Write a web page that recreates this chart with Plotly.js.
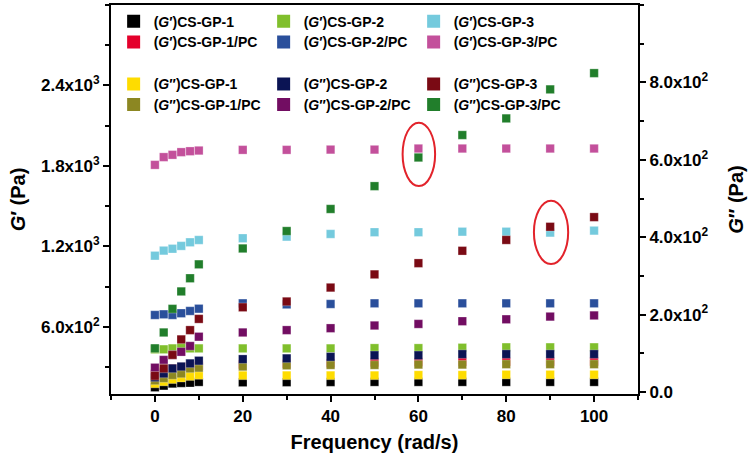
<!DOCTYPE html>
<html>
<head>
<meta charset="utf-8">
<script src="https://cdn.plot.ly/plotly-3.0.1.min.js"></script>
<style>html,body{margin:0;padding:0;background:#fff;}#chart{width:748px;height:455px;}</style>
</head>
<body>
<div id="chart"></div>
<script>
// Frequency (rad/s)
const freq = [0, 2, 4, 6, 8, 10, 20, 30, 40, 50, 60, 70, 80, 90, 100];

// G' (Pa) - left axis
const gp1_G1   = [150, 162, 178, 182, 184, 190, 187, 188, 189, 190, 190, 190, 190, 190, 190];
const gp1pc_G1 = [250, 265, 290, 300, 305, 310, 320, 325, 330, 335, 338, 340, 340, 342, 342];
const gp2_G1   = [433, 433, 440, 447, 440, 440, 440, 440, 440, 442, 442, 445, 448, 448, 448];
const gp2pc_G1 = [689, 694, 689, 702, 719, 736, 776, 768, 771, 776, 776, 776, 776, 776, 776];
const gp3_G1   = [1131, 1169, 1183, 1204, 1231, 1248, 1261, 1273, 1293, 1306, 1306, 1310, 1310, 1303, 1318];
const gp3pc_G1 = [1808, 1866, 1883, 1903, 1910, 1915, 1920, 1920, 1922, 1922, 1930, 1930, 1930, 1930, 1930];

// G'' (Pa) - right axis
const gp1_G2   = [22, 27, 33, 37, 41, 44, 43, 43, 43, 43, 44, 44, 45, 45, 45];
const gp1pc_G2 = [30, 36, 44, 48, 61, 63, 66, 69, 70, 70, 71, 71, 72, 72, 72];
const gp2_G2   = [38, 48, 61, 66, 74, 81, 85, 87, 91, 95, 95, 98, 98, 98, 98];
const gp2pc_G2 = [63, 83, 96, 104, 119, 143, 154, 160, 165, 172, 176, 183, 188, 195, 198];
const gp3_G2   = [42, 61, 96, 136, 160, 189, 219, 234, 270, 304, 333, 365, 393, 427, 452];
const gp3pc_G2 = [113, 154, 215, 260, 294, 330, 371, 416, 473, 532, 606, 664, 707, 782, 824];

// tick labels
const xTicks = [0, 20, 40, 60, 80, 100];
const yTicks = [600, 1200, 1800, 2400];
const yTickText = ['6.0x10<sup>2</sup>', '1.2x10<sup>3</sup>', '1.8x10<sup>3</sup>', '2.4x10<sup>3</sup>'];
const y2Ticks = [0, 200, 400, 600, 800];
const y2TickText = ['0.0', '2.0x10<sup>2</sup>', '4.0x10<sup>2</sup>', '6.0x10<sup>2</sup>', '8.0x10<sup>2</sup>'];

// highlight ellipses (x range, left-axis y range)
const ellipseX = [[56.4, 63.8], [86.3, 94.1]];
const ellipseY = [[1651, 2123], [1069, 1541]];

const P1 = '(<i>G</i>′)';
const P2 = '(<i>G</i>′′)';

const series = [
  {name: P1 + 'CS-GP-1',    y: gp1_G1,   c: '#000000', ax: 'y',  lg: 'legend'},
  {name: P1 + 'CS-GP-1/PC', y: gp1pc_G1, c: '#e4002b', ax: 'y',  lg: 'legend2'},
  {name: P1 + 'CS-GP-2',    y: gp2_G1,   c: '#80bf2c', ax: 'y',  lg: 'legend'},
  {name: P1 + 'CS-GP-2/PC', y: gp2pc_G1, c: '#2a4f9b', ax: 'y',  lg: 'legend2'},
  {name: P1 + 'CS-GP-3',    y: gp3_G1,   c: '#74cadd', ax: 'y',  lg: 'legend'},
  {name: P1 + 'CS-GP-3/PC', y: gp3pc_G1, c: '#c3509b', ax: 'y',  lg: 'legend2'},
  {name: P2 + 'CS-GP-1',    y: gp1_G2,   c: '#fedc00', ax: 'y2', lg: 'legend3'},
  {name: P2 + 'CS-GP-1/PC', y: gp1pc_G2, c: '#8c8722', ax: 'y2', lg: 'legend4'},
  {name: P2 + 'CS-GP-2',    y: gp2_G2,   c: '#0b1454', ax: 'y2', lg: 'legend3'},
  {name: P2 + 'CS-GP-2/PC', y: gp2pc_G2, c: '#720d62', ax: 'y2', lg: 'legend4'},
  {name: P2 + 'CS-GP-3',    y: gp3_G2,   c: '#7a0a14', ax: 'y2', lg: 'legend3'},
  {name: P2 + 'CS-GP-3/PC', y: gp3pc_G2, c: '#217e2b', ax: 'y2', lg: 'legend4'}
];

const traces = [];
series.forEach(s => {
  traces.push({
    x: freq, y: s.y, yaxis: s.ax, type: 'scatter', mode: 'markers',
    marker: {symbol: 'square', size: 8.5, color: s.c, line: {width: 0.6, color: 'rgba(255,255,255,0.45)'}},
    showlegend: false, hoverinfo: 'skip'
  });
});
// legend entries (larger symbols, as in the reference)
const legendOrder = [0, 2, 4, 1, 3, 5, 6, 8, 10, 7, 9, 11];
legendOrder.forEach(i => {
  const s = series[i];
  traces.push({
    x: [null], y: [null], yaxis: s.ax, type: 'scatter', mode: 'markers',
    marker: {symbol: 'square', size: 13, color: s.c},
    name: s.name, legend: s.lg, showlegend: true, hoverinfo: 'skip'
  });
});

const F = 'Liberation Sans, Arial, sans-serif';
const legFont = {family: F, size: 14, color: '#000', weight: 'bold'};
function mkLegend(y) {
  return {x: 0.005, y: y, xanchor: 'left', yanchor: 'middle', orientation: 'h',
          entrywidth: 105, entrywidthmode: 'pixels', font: legFont,
          bgcolor: 'rgba(0,0,0,0)', borderwidth: 0, traceorder: 'normal'};
}

const shapes = ellipseX.map((ex, i) => ({
  type: 'circle', xref: 'x', yref: 'y',
  x0: ex[0], x1: ex[1], y0: ellipseY[i][0], y1: ellipseY[i][1],
  line: {color: '#e2232b', width: 2}
}));

const axisCommon = {
  showline: true, linecolor: '#000', linewidth: 2, ticks: 'outside', ticklen: 6, tickwidth: 2,
  tickcolor: '#000', showgrid: false, zeroline: false,
  tickfont: {family: F, size: 17, color: '#000', weight: 'bold'}
};

const layout = {
  width: 748, height: 455,
  margin: {l: 111, r: 110, t: 5, b: 61},
  paper_bgcolor: '#ffffff', plot_bgcolor: '#ffffff',
  font: {family: F, color: '#000'},
  xaxis: Object.assign({}, axisCommon, {
    range: [-10, 110], mirror: true, tickmode: 'array', tickvals: xTicks,
    minor: {dtick: 10, tick0: 0, ticks: 'outside', ticklen: 4, tickwidth: 2, tickcolor: '#000', showgrid: false},
    title: {text: 'Frequency (rad/s)', font: {family: F, size: 20, color: '#000', weight: 'bold'}, standoff: 10}
  }),
  yaxis: Object.assign({}, axisCommon, {
    range: [100, 3000], tickmode: 'array', tickvals: yTicks, ticktext: yTickText,
    minor: {dtick: 300, tick0: 0, ticks: 'outside', ticklen: 4, tickwidth: 2, tickcolor: '#000', showgrid: false},
    title: {text: '<i>G</i>′ (Pa)', font: {family: F, size: 20, color: '#000', weight: 'bold'}, standoff: 10}
  }),
  yaxis2: Object.assign({}, axisCommon, {
    overlaying: 'y', side: 'right',
    range: [-5, 1000], tickmode: 'array', tickvals: y2Ticks, ticktext: y2TickText,
    minor: {dtick: 100, tick0: 0, ticks: 'outside', ticklen: 4, tickwidth: 2, tickcolor: '#000', showgrid: false},
    title: {text: '<i>G</i>′′ (Pa)', font: {family: F, size: 20, color: '#000', weight: 'bold'}, standoff: 22}
  }),
  legend: mkLegend(0.957),
  legend2: mkLegend(0.904),
  legend3: mkLegend(0.796),
  legend4: mkLegend(0.743),
  shapes: shapes
};

Plotly.newPlot('chart', traces, layout, {displayModeBar: false, staticPlot: true});
</script>
</body>
</html>
